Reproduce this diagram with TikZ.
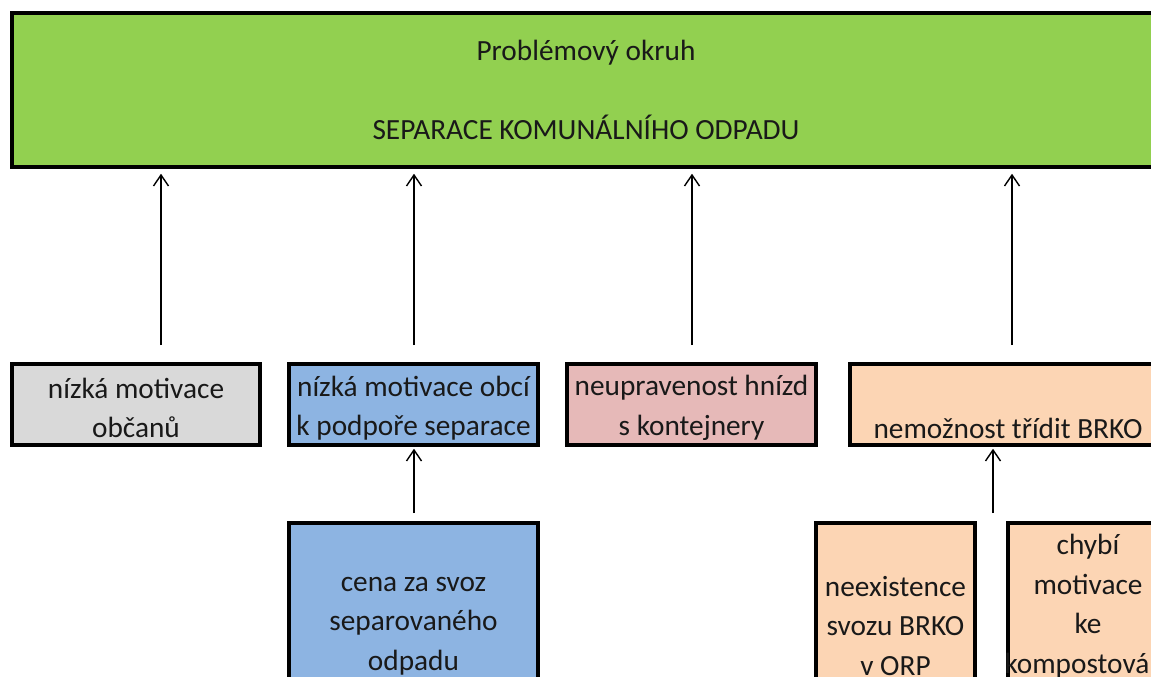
\documentclass[tikz,border=0pt]{standalone}
\usepackage{fontspec}
\setmainfont{Carlito}
\usetikzlibrary{arrows.meta,calc}
\definecolor{cgreen}{HTML}{92D050}
\definecolor{cgray}{HTML}{D9D9D9}
\definecolor{cblue}{HTML}{8DB4E2}
\definecolor{cpink}{HTML}{E6B9B8}
\definecolor{corange}{HTML}{FCD5B4}
\begin{document}
\begin{tikzpicture}[x=1pt,y=-1pt,
  box/.style={draw=black, line width=3.5pt, rectangle, inner sep=0pt},
  txt/.style={align=center, inner sep=0pt, font=\fontsize{29.3}{39.5}\selectfont, text=black!90},
  arr/.style={-{Straight Barb[length=11pt,width=15pt]}, line width=1.4pt}]
\useasboundingbox (0,0) rectangle (1151,677);
\clip (0,0) rectangle (1151,677);
\fill[white] (0,0) rectangle (1151,677);
% top box
\node[box, fill=cgreen, minimum width=1148, minimum height=154] (top) at (586,90) {};
\node[txt] (toptxt) at (586,90) {Problémový okruh\\[39.5pt]SEPARACE KOMUNÁLNÍHO ODPADU};
% second row
\node[box, fill=cgray, minimum width=248, minimum height=81] (b1) at (136,404.5) {};
\node[txt] (t1) at (136,408) {nízká motivace\\občanů};
\node[box, fill=cblue, minimum width=249, minimum height=81] (b2) at (413.5,404.5) {};
\node[txt] (t2) at (413.5,408) {nízká motivace obcí\\k podpoře separace};
\node[box, fill=cpink, minimum width=249, minimum height=81] (b3) at (691.5,404.5) {};
\node[txt] (t3) at (691.5,408) {neupravenost hnízd\\s kontejnery};
\node[box, fill=corange, minimum width=316, minimum height=81] (b4) at (1008,404.5) {};
\node[txt] (t4) at (1008,428) {nemožnost třídit BRKO};
% third row
\node[box, fill=cblue, minimum width=249, minimum height=200] (c1) at (413.5,623) {};
\node[txt] (u1) at (413.5,626) {cena za svoz\\separovaného\\odpadu};
\node[box, fill=corange, minimum width=159, minimum height=200] (c2) at (895.5,623) {};
\node[txt] (u2) at (895.5,626) {neexistence\\svozu BRKO\\v ORP};
\node[box, fill=corange, minimum width=160, minimum height=200] (c3) at (1088,623) {};
\node[txt] (u3) at (1088,606) {chybí\\motivace\\ke\\kompostování};
% connectors
\coordinate (a1) at (161,345);
\coordinate (a2) at (414,345);
\coordinate (a3) at (692,345);
\coordinate (a4) at (1012,345);
\coordinate (a5) at (414,513);
\coordinate (a6) at (993,513);
\draw[arr, shorten >=5pt] (a1) -- (a1 |- top.south);
\draw[arr, shorten >=5pt] (a2) -- (a2 |- top.south);
\draw[arr, shorten >=5pt] (a3) -- (a3 |- top.south);
\draw[arr, shorten >=5pt] (a4) -- (a4 |- top.south);
\draw[arr, shorten >=2pt] (a5) -- (a5 |- b2.south);
\draw[arr, shorten >=2pt] (a6) -- (a6 |- b4.south);
\end{tikzpicture}
\end{document}
